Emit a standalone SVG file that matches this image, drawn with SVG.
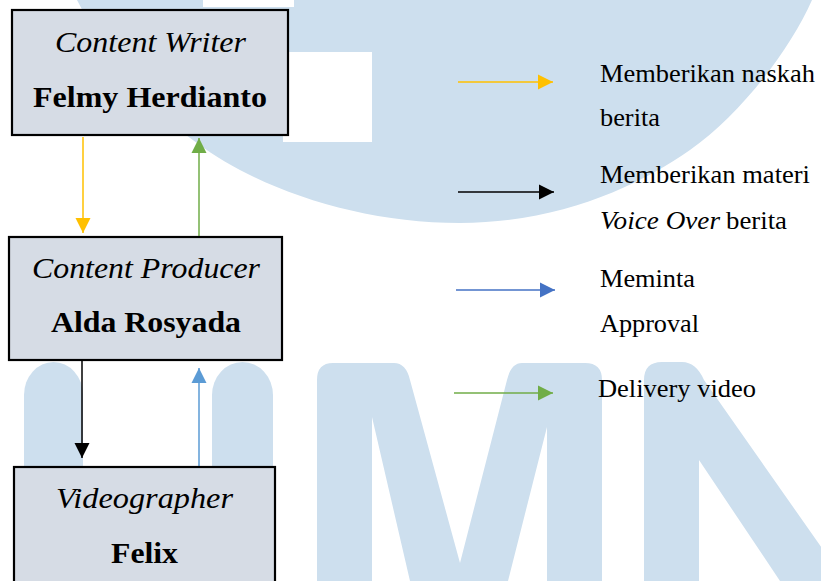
<svg xmlns="http://www.w3.org/2000/svg" width="821" height="581" viewBox="0 0 821 581">
<style>
.wm{fill:#cddfee;stroke:none}
.box{fill:#d6dce5;stroke:#000;stroke-width:2.2}
.c{fill:none;stroke-width:1.5}
</style>
<defs>
<marker id="hY" viewBox="0 0 10 10" refX="10" refY="5" markerWidth="15" markerHeight="16" markerUnits="userSpaceOnUse" orient="auto"><path d="M0,0L10,5L0,10Z" fill="#ffc000"/></marker>
<marker id="hK" viewBox="0 0 10 10" refX="10" refY="5" markerWidth="15" markerHeight="16" markerUnits="userSpaceOnUse" orient="auto"><path d="M0,0L10,5L0,10Z" fill="#000"/></marker>
<marker id="hB" viewBox="0 0 10 10" refX="10" refY="5" markerWidth="15" markerHeight="16" markerUnits="userSpaceOnUse" orient="auto"><path d="M0,0L10,5L0,10Z" fill="#4472c4"/></marker>
<marker id="hL" viewBox="0 0 10 10" refX="10" refY="5" markerWidth="15" markerHeight="16" markerUnits="userSpaceOnUse" orient="auto"><path d="M0,0L10,5L0,10Z" fill="#5b9bd5"/></marker>
<marker id="hG" viewBox="0 0 10 10" refX="10" refY="5" markerWidth="15" markerHeight="16" markerUnits="userSpaceOnUse" orient="auto"><path d="M0,0L10,5L0,10Z" fill="#70ad47"/></marker>
</defs>
<rect width="821" height="581" fill="#fff"/>
<g id="watermark">
<path class="wm" d="M77,0 C105,55 150,110 197,143 C260,190 360,223 460,223 C560,223 640,185 690,150 C740,115 790,50 812,0 Z"/>
<rect x="203" y="0" width="91" height="7" fill="#fff"/>
<rect x="283" y="52" width="89" height="90" fill="#fff"/>
<path class="wm" d="M24,581 V395 A29.5,33 0 0 1 83,395 V581 Z"/>
<path class="wm" d="M212,581 V395 A30.5,33 0 0 1 273,395 V581 Z"/>
<path class="wm" d="M317,581 V380 Q317,363 333,363 H394 Q406,363 410,380 L460,563 L507,380 Q511,363 522,363 H585 Q602,363 602,380 V581 H547 V427 L508,581 H410 L372,417 V581 Z"/>
<path class="wm" d="M644,581 V380 Q644,362 662,362 H682 Q696,362 704,380 L845,581 H780 L699,460 V581 Z"/>
</g>
<g id="connectors">
<line class="c" x1="83" y1="137" x2="83" y2="233" stroke="#ffc000" marker-end="url(#hY)"/>
<line class="c" x1="199" y1="237" x2="199" y2="138" stroke="#70ad47" marker-end="url(#hG)"/>
<line class="c" x1="82" y1="361" x2="82" y2="458" stroke="#000" marker-end="url(#hK)"/>
<line class="c" x1="199" y1="467" x2="199" y2="368" stroke="#5b9bd5" marker-end="url(#hL)"/>
</g>
<g font-family="Liberation Serif, DejaVu Serif, serif" fill="#000">
<g id="node-content-writer">
<rect class="box" x="12" y="10" width="276" height="125"/>
<text x="55" y="52" font-size="30" font-style="italic" textLength="191" lengthAdjust="spacingAndGlyphs">Content Writer</text>
<text x="33" y="107" font-size="30" font-weight="bold" textLength="234" lengthAdjust="spacingAndGlyphs">Felmy Herdianto</text>
</g>
<g id="node-content-producer">
<rect class="box" x="9" y="237" width="273" height="123"/>
<text x="32" y="278" font-size="30" font-style="italic" textLength="228" lengthAdjust="spacingAndGlyphs">Content Producer</text>
<text x="51" y="332" font-size="30" font-weight="bold" textLength="190" lengthAdjust="spacingAndGlyphs">Alda Rosyada</text>
</g>
<g id="node-videographer">
<rect class="box" x="14" y="467" width="261" height="130"/>
<text x="56" y="508" font-size="30" font-style="italic" textLength="177" lengthAdjust="spacingAndGlyphs">Videographer</text>
<text x="111" y="563" font-size="30" font-weight="bold" textLength="67" lengthAdjust="spacingAndGlyphs">Felix</text>
</g>
<g id="legend" font-size="25">
<line class="c" x1="458" y1="82" x2="553" y2="82" stroke="#ffc000" marker-end="url(#hY)"/>
<line class="c" x1="458" y1="192" x2="554" y2="192" stroke="#000" marker-end="url(#hK)"/>
<line class="c" x1="456" y1="290" x2="555" y2="290" stroke="#4472c4" marker-end="url(#hB)"/>
<line class="c" x1="454" y1="393" x2="553" y2="393" stroke="#70ad47" marker-end="url(#hG)"/>
<text x="600" y="82" textLength="215" lengthAdjust="spacingAndGlyphs">Memberikan naskah</text>
<text x="600" y="126" textLength="60" lengthAdjust="spacingAndGlyphs">berita</text>
<text x="600" y="183" textLength="210" lengthAdjust="spacingAndGlyphs">Memberikan materi</text>
<text x="600" y="229" font-style="italic" textLength="120" lengthAdjust="spacingAndGlyphs">Voice Over</text>
<text x="726" y="229" textLength="61" lengthAdjust="spacingAndGlyphs">berita</text>
<text x="600" y="287" textLength="95" lengthAdjust="spacingAndGlyphs">Meminta</text>
<text x="600" y="332" textLength="99" lengthAdjust="spacingAndGlyphs">Approval</text>
<text x="598" y="397" textLength="158" lengthAdjust="spacingAndGlyphs">Delivery video</text>
</g>
</g>
</svg>
